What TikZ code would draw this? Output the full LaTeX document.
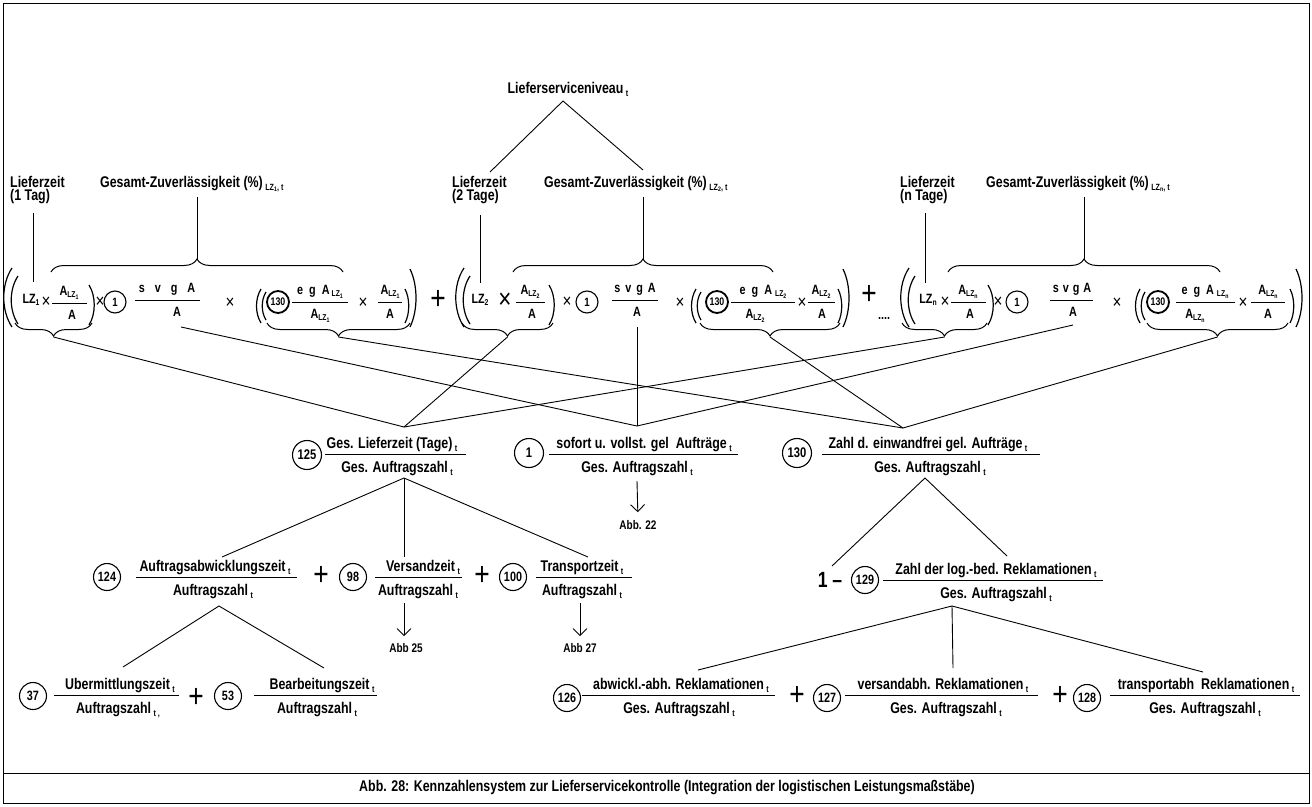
\documentclass[tikz,border=0pt]{standalone}
\usepackage{fontspec}
\setmainfont{Liberation Sans}[FakeStretch=0.8]
\usetikzlibrary{decorations.pathreplacing,arrows.meta}

\newcommand\st[1]{\hspace{2.5pt}\raisebox{-3pt}{\fontsize{9}{9}\selectfont #1}}
\newcommand\tsub[1]{\raisebox{-1.5pt}{\fontsize{6.5}{6.5}\selectfont #1}}
\newcommand\fs[1]{\raisebox{-2pt}{\fontsize{8.5}{8.5}\selectfont #1}}
\def\numoff{5.5}\def\denoff{18.5}
\newcommand\Frac[8]{%
 \coordinate (#1-l) at (#2,#4);
 \coordinate (#1-r) at (#3,#4);
 \draw[fbar] (#1-l) -- (#1-r);
 \node[ftxt,anchor=base] (#1-n) at (#5,{#4-\numoff}) {#6};
 \node[ftxt,anchor=base] (#1-d) at (#7,{#4+\denoff}) {#8};}
\newcommand\LP[4]{\draw[pl] (#1,#2) .. controls ({#1-#4},{#2+0.28*(#3-#2)}) and ({#1-#4},{#3-0.28*(#3-#2)}) .. (#1,#3);}
\newcommand\RP[4]{\draw[pl] (#1,#2) .. controls ({#1+#4},{#2+0.28*(#3-#2)}) and ({#1+#4},{#3-0.28*(#3-#2)}) .. (#1,#3);}

\tikzset{
 conn/.style={line width=0.9pt},
 fbar/.style={line width=0.9pt},
 pl/.style={line width=1.2pt},
 brc/.style={decorate, decoration={brace, amplitude=13pt}, line width=1pt},
 arr/.style={line width=0.9pt, -{Straight Barb[length=7pt,width=14pt]}},
 lbl/.style={inner sep=0pt, font=\fontsize{15.5}{13}\selectfont\bfseries},
 ftxt/.style={lbl},
 xs/.style={inner sep=0pt, font=\fontsize{19}{19}\selectfont},
 xb/.style={inner sep=0pt, font=\fontsize{28}{28}\selectfont},
 bigplus/.style={inner sep=0pt, font=\fontsize{33}{33}\selectfont},
 fc/.style={circle, draw, line width=1.1pt, minimum size=22pt, inner sep=0pt, font=\fontsize{12}{12}\selectfont\bfseries},
 fc2/.style={fc, line width=1.8pt, font=\fontsize{11}{11}\selectfont\bfseries},
 mc/.style={circle, draw, line width=1.1pt, minimum size=29pt, inner sep=0pt, font=\fontsize{14}{13}\selectfont\bfseries},
 rc/.style={mc, minimum size=27pt, font=\fontsize{13.5}{13}\selectfont\bfseries},
 abbf/.style={inner sep=0pt, font=\fontsize{12.5}{12}\selectfont\bfseries},
 onef/.style={inner sep=0pt, font=\fontsize{22}{22}\selectfont\bfseries},
}

\begin{document}
\begin{tikzpicture}[x=1pt,y=-1pt]
\useasboundingbox (0,0) rectangle (1312,806);
\fill[white] (0,0) rectangle (1312,806);
% frame
\draw[line width=1pt] (3,3) rectangle (1309,803);
\draw[line width=1pt] (3,773) -- (1309,773);
\node[lbl] (cap) at (667,788) {Abb. 28: Kennzahlensystem zur Lieferservicekontrolle (Integration der logistischen Leistungsmaßstäbe)};

% top
\node[lbl,anchor=base] (ls) at (568,93) {Lieferserviceniveau\st{t}};
\coordinate (ls-apex) at (563,101);
\coordinate (ls-l) at (490,172);
\coordinate (ls-r) at (643,170);
\draw[conn] (ls-l) -- (ls-apex) -- (ls-r);

% labels
\node[lbl,align=left,anchor=north west] (lz1lab) at (10,176) {Lieferzeit\\(1 Tag)};
\node[lbl,anchor=base west] (gz1lab) at (100,187) {Gesamt-Zuverlässigkeit (\%)\st{LZ\tsub{1}, t}};
\node[lbl,align=left,anchor=north west] (lz2lab) at (452,176) {Lieferzeit\\(2 Tage)};
\node[lbl,anchor=base west] (gz2lab) at (544,187) {Gesamt-Zuverlässigkeit (\%)\st{LZ\tsub{2}, t}};
\node[lbl,align=left,anchor=north west] (lz3lab) at (900,176) {Lieferzeit\\(n Tage)};
\node[lbl,anchor=base west] (gz3lab) at (986,187) {Gesamt-Zuverlässigkeit (\%)\st{LZ\tsub{n}, t}};

\coordinate (lz1t) at (33,213); \coordinate (lz1b) at (33,282);
\coordinate (lz2t) at (480,215); \coordinate (lz2b) at (480,283);
\coordinate (lz3t) at (925,213); \coordinate (lz3b) at (925,283);
\coordinate (gz1t) at (197,197); \coordinate (tb1) at (197,259);
\coordinate (gz2t) at (643,197); \coordinate (tb2) at (643,259);
\coordinate (gz3t) at (1084,197); \coordinate (tb3) at (1084,259);
\draw[conn] (lz1t) -- (lz1b);
\draw[conn] (lz2t) -- (lz2b);
\draw[conn] (lz3t) -- (lz3b);
\draw[conn] (gz1t) -- (tb1);
\draw[conn] (gz2t) -- (tb2);
\draw[conn] (gz3t) -- (tb3);

% formula row
\begin{scope}[ftxt/.style={inner sep=0pt, font=\fontsize{13.5}{13}\selectfont\bfseries}]
\def\numoff{7.5}\def\denoff{16.5}
% group 1
\LP{12}{268}{327}{11} \LP{18}{276}{324}{9}
\node[ftxt] (g1-lz) at (31,300) {LZ\fs{1}};
\node[xs] (g1-x1) at (46,302) {×};
\Frac{g1-f1}{52}{87}{303}{69}{A\fs{LZ\tsub{1}}}{72}{A}
\RP{89}{285}{325}{7}
\node[xs] (g1-x2) at (100,302) {×};
\node[fc] (g1-c1) at (115,302) {1};
\Frac{g1-f2}{135}{200}{300}{167}{s\hspace{10pt}v\hspace{10pt}g\hspace{10pt}A}{177}{A}
\node[xs] (g1-x3) at (230,303) {×};
\LP{261}{289}{323}{6} \LP{266}{292}{320}{5}
\node[fc2] (g1-c3) at (278,302) {130};
\Frac{g1-f3}{292}{348}{302}{320}{e\hspace{6pt}g\hspace{6pt}A\hspace{2pt}\fs{LZ\tsub{1}}}{320}{A\fs{LZ\tsub{1}}}
\node[xs] (g1-x4) at (363,303) {×};
\Frac{g1-f4}{378}{402}{302}{390}{A\fs{LZ\tsub{1}}}{390}{A}
\RP{405}{289}{323}{5} \RP{410}{269}{327}{8}
\node[bigplus] (p1) at (438,300) {+};
\draw[brc] (51,272) -- (343,272);
\draw[brc] (92,323) -- (15,323);
\draw[brc] (410,323) -- (267,323);
% group 2
\LP{464}{268}{327}{11} \LP{470}{276}{324}{9}
\node[ftxt] (g2-lz) at (480,300) {LZ\fs{2}};
\node[xb] (g2-x1) at (505,301) {×};
\Frac{g2-f1}{516}{545}{302}{530}{A\fs{LZ\tsub{2}}}{532}{A}
\RP{549}{285}{325}{7}
\node[xs] (g2-x2) at (567,302) {×};
\node[fc] (g2-c1) at (587,302) {1};
\Frac{g2-f2}{612}{658}{300}{635}{s\hspace{5pt}v\hspace{5pt}g\hspace{5pt}A}{637}{A}
\node[xs] (g2-x3) at (680,303) {×};
\LP{696}{289}{323}{6} \LP{701}{292}{320}{5}
\node[fc2] (g2-c3) at (717,302) {130};
\Frac{g2-f3}{731}{795}{302}{763}{e\hspace{6pt}g\hspace{6pt}A\hspace{3pt}\fs{LZ\tsub{2}}}{755}{A\fs{LZ\tsub{2}}}
\node[xs] (g2-x4) at (802,303) {×};
\Frac{g2-f4}{808}{835}{302}{821}{A\fs{LZ\tsub{2}}}{822}{A}
\RP{838}{289}{323}{5} \RP{843}{269}{327}{8}
\node[bigplus] (p2) at (869,295) {+};
\node[ftxt] (dots) at (884,318) {....};
\draw[brc] (513,272) -- (773,272);
\draw[brc] (553,323) -- (462,323);
\draw[brc] (840,323) -- (700,323);
% group 3
\LP{909}{268}{327}{11} \LP{915}{276}{324}{9}
\node[ftxt] (g3-lz) at (928,300) {LZ\fs{n}};
\node[xs] (g3-x1) at (945,302) {×};
\Frac{g3-f1}{951}{986}{302}{968}{A\fs{LZ\tsub{n}}}{970}{A}
\RP{988}{285}{325}{7}
\node[xs] (g3-x2) at (998,302) {×};
\node[fc] (g3-c1) at (1017,302) {1};
\Frac{g3-f2}{1050}{1093}{300}{1072}{s\hspace{4pt}v\hspace{4pt}g\hspace{4pt}A}{1073}{A}
\node[xs] (g3-x3) at (1117,303) {×};
\LP{1140}{289}{323}{6} \LP{1145}{292}{320}{5}
\node[fc2] (g3-c3) at (1158,302) {130};
\Frac{g3-f3}{1176}{1235}{302}{1205}{e\hspace{6pt}g\hspace{6pt}A\hspace{3pt}\fs{LZ\tsub{n}}}{1195}{A\fs{LZ\tsub{n}}}
\node[xs] (g3-x4) at (1243,303) {×};
\Frac{g3-f4}{1251}{1285}{302}{1268}{A\fs{LZ\tsub{n}}}{1268}{A}
\RP{1290}{289}{323}{5} \RP{1296}{269}{327}{8}
\draw[brc] (948,272) -- (1220,272);
\draw[brc] (987,323) -- (902,323);
\draw[brc] (1288,323) -- (1147,323);
\end{scope}

% brace tips and sources
\coordinate (g1-ba) at (53.5,337); \coordinate (g2-ba) at (507.5,337); \coordinate (g3-ba) at (944.5,337);
\coordinate (g1-bb) at (338.5,337); \coordinate (g2-bb) at (770,337); \coordinate (g3-bb) at (1217.5,337);
\coordinate (sv1) at (181,327); \coordinate (sv2) at (637,327); \coordinate (sv3) at (1073,325);
\coordinate (gl-top) at (404,427); \coordinate (so-top) at (637,426); \coordinate (za-top) at (903,428);
\foreach \s in {g1-ba,g2-ba,g3-ba} \draw[conn] (\s) -- (gl-top);
\foreach \s in {sv1,sv2,sv3} \draw[conn] (\s) -- (so-top);
\foreach \s in {g1-bb,g2-bb,g3-bb} \draw[conn] (\s) -- (za-top);

% middle row
\node[mc] (c125) at (307,455) {125};
\Frac{gl}{325}{466}{454}{392}{Ges. Lieferzeit (Tage)\st{t}}{397}{Ges. Auftragszahl\st{t}}
\node[mc] (c1m) at (529,453) {1};
\Frac{so}{549}{738}{454}{644}{sofort u. vollst. gel\ \ Aufträge\st{t}}{637}{Ges. Auftragszahl\st{t}}
\node[mc] (c130m) at (797,453) {130};
\Frac{za}{822}{1040}{454}{928}{Zahl d. einwandfrei gel. Aufträge\st{t}}{930}{Ges. Auftragszahl\st{t}}

\node[abbf] (abb22) at (638,525) {Abb. 22};
\coordinate (so-bot) at (637,481);
\draw[arr,shorten >=8pt] (so-bot) -- (abb22.north);

% row 3 left
\node[rc] (c124) at (107,577) {124};
\Frac{aw}{136}{297}{577}{215}{Auftragsabwicklungszeit\st{t}}{213}{Auftragszahl\st{t}}
\node[bigplus] (p3) at (321,576) {+};
\node[rc] (c98) at (353,577) {98};
\Frac{vz}{375}{462}{577}{423}{Versandzeit\st{t}}{418}{Auftragszahl\st{t}}
\node[bigplus] (p4) at (482,576) {+};
\node[rc] (c100) at (513,577) {100};
\Frac{tz}{536}{632}{577}{582}{Transportzeit\st{t}}{582}{Auftragszahl\st{t}}
\node[abbf] (abb25) at (406,648) {Abb 25};
\node[abbf] (abb27) at (580,648) {Abb 27};
\coordinate (vz-a) at (404,603); \coordinate (tz-a) at (580,603);
\draw[arr,shorten >=7pt] (vz-a) -- (vz-a |- abb25.north);
\draw[arr,shorten >=7pt] (tz-a) -- (abb27.north);

\coordinate (gl-bot) at (404,478);
\coordinate (aw-top) at (222,557); \coordinate (vz-top) at (404,557); \coordinate (tz-top) at (588,557);
\draw[conn] (gl-bot) -- (aw-top);
\draw[conn] (gl-bot) -- (vz-top);
\draw[conn] (gl-bot) -- (tz-top);

% row 3 right
\node[onef] (onem) at (830,580) {1 –};
\node[rc] (c129) at (865,580) {129};
\Frac{lb}{883}{1103}{580}{996}{Zahl der log.-bed. Reklamationen\st{t}}{996}{Ges. Auftragszahl\st{t}}
\coordinate (za-bot) at (925,478);
\coordinate (one-top) at (832,566); \coordinate (lb-top) at (1007,556);
\draw[conn] (one-top) -- (za-bot) -- (lb-top);

% row 4 left
\node[rc] (c37) at (33,696) {37};
\Frac{um}{54}{179}{695}{120}{Ubermittlungszeit\st{t}}{118}{Auftragszahl\st{t ,}}
\node[bigplus] (p5) at (196,698) {+};
\node[rc] (c53) at (228,696) {53};
\Frac{bz}{254}{377}{695}{322}{Bearbeitungszeit\st{t}}{317}{Auftragszahl\st{t}}
\coordinate (aw-bot) at (219,606); \coordinate (um-top) at (123,667); \coordinate (bz-top) at (324,668);
\draw[conn] (um-top) -- (aw-bot) -- (bz-top);

% row 4 right
\node[rc] (c126) at (567,698) {126};
\Frac{ar}{582}{775}{695}{681}{abwickl.-abh. Reklamationen\st{t}}{679}{Ges. Auftragszahl\st{t}}
\node[bigplus] (p6) at (797,696) {+};
\node[rc] (c127) at (827,698) {127};
\Frac{vr}{845}{1038}{695}{943}{versandabh. Reklamationen\st{t}}{946}{Ges. Auftragszahl\st{t}}
\node[bigplus] (p7) at (1060,696) {+};
\node[rc] (c128) at (1087,698) {128};
\Frac{tr}{1110}{1300}{695}{1206}{transportabh\ \ Reklamationen\st{t}}{1205}{Ges. Auftragszahl\st{t}}
\coordinate (lb-bot) at (952,606);
\coordinate (ar-top) at (698,670); \coordinate (vr-top) at (953,668); \coordinate (tr-top) at (1203,672);
\draw[conn] (lb-bot) -- (ar-top);
\draw[conn] (lb-bot) -- (vr-top);
\draw[conn] (lb-bot) -- (tr-top);
\end{tikzpicture}
\end{document}
